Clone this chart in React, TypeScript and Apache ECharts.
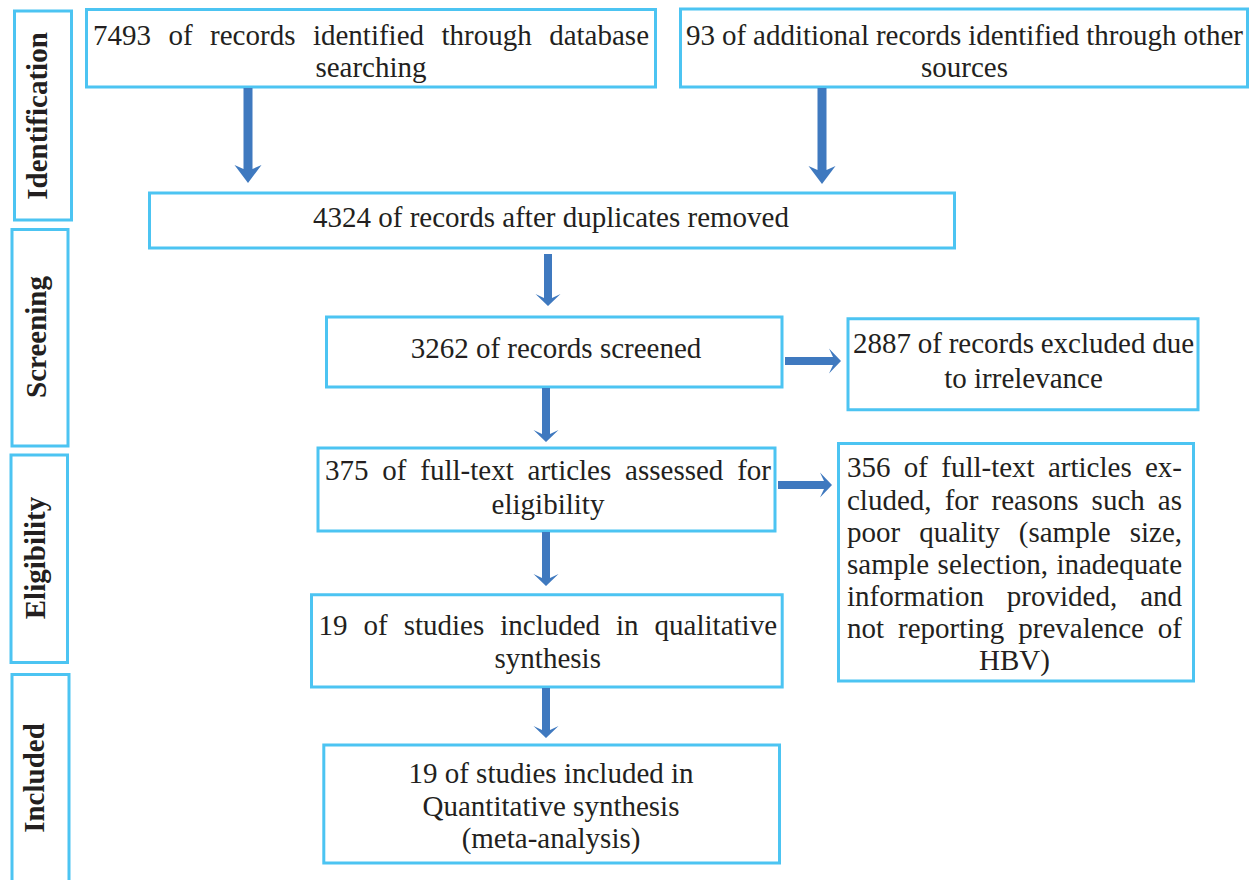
import React, { useEffect, useRef } from "react";
import * as echarts from "echarts";

// ---- Content ----
const stageLabels = ["Identification", "Screening", "Eligibility", "Included"];

const identDbLines = ["7493 of records identified through database", "searching"];
const identOtherLines = ["93 of additional records identified through other", "sources"];
const dedupLines = ["4324 of records after duplicates removed"];
const screenedLines = ["3262 of records screened"];
const excludedLines = ["2887 of records excluded due", "to irrelevance"];
const fullTextLines = ["375 of full-text articles assessed for", "eligibility"];
const fullTextExcludedLines = [
  "356 of full-text articles ex-",
  "cluded, for reasons such as",
  "poor quality (sample size,",
  "sample selection, inadequate",
  "information provided, and",
  "not reporting prevalence of",
  "HBV)",
];
const qualitativeLines = ["19 of studies included in qualitative", "synthesis"];
const quantitativeLines = ["19 of studies included in", "Quantitative synthesis", "(meta-analysis)"];

// ---- Layout / style ----
const FONT = '"Liberation Serif", "Times New Roman", serif';
const FS = 29;
const BORDER = "#4cc4f2";
const ARROW = "#3f79bf";
const TEXT = "#231f20";

const stageBoxes = [
  { x: 14.5, y: 11, w: 57, h: 209, cx: 37, cy: 116 },
  { x: 12, y: 229.5, w: 56, h: 216.5, cx: 36, cy: 337 },
  { x: 11, y: 455, w: 56.5, h: 207.5, cx: 35, cy: 558 },
  { x: 12, y: 674.5, w: 57, h: 240, cx: 34, cy: 778 },
];

const boxes = [
  { lines: identDbLines, x: 86.5, y: 9.5, w: 569, h: 77.5, tx0: 93, tx1: 649, base: [45, 77], justify: true },
  { lines: identOtherLines, x: 680.5, y: 9, w: 567, h: 78, tx0: 686, tx1: 1243, base: [45, 77], justify: true },
  { lines: dedupLines, x: 149.5, y: 193, w: 805, h: 55, tx0: 149, tx1: 953, base: [227], justify: false },
  { lines: screenedLines, x: 326.5, y: 317, w: 455.5, h: 70, tx0: 330, tx1: 782, base: [358], justify: false },
  { lines: excludedLines, x: 848, y: 318.8, w: 350, h: 91, tx0: 853, tx1: 1194, base: [353, 388], justify: true },
  { lines: fullTextLines, x: 318, y: 448, w: 457, h: 83, tx0: 325, tx1: 771, base: [480, 514], justify: true },
  { lines: fullTextExcludedLines, x: 838.5, y: 443.5, w: 355, h: 237.5, tx0: 847, tx1: 1182, base: [477, 510, 542, 574, 606, 638, 670], justify: true },
  { lines: qualitativeLines, x: 311.5, y: 594.7, w: 470.7, h: 92.3, tx0: 318.5, tx1: 777, base: [635, 668], justify: true },
  { lines: quantitativeLines, x: 323.8, y: 745, w: 455.7, h: 118, tx0: 323, tx1: 779, base: [783, 815.5, 848], justify: false },
];

// arrows: dir 'down' => (c = x center, s = start y, t = tip y) ; 'right' => (c = y center, s = start x, t = tip x)
const arrows = [
  { dir: "down", c: 248, s: 88, t: 183, head: 18, half: 13.5, shaft: 9 },
  { dir: "down", c: 822, s: 88, t: 184, head: 18, half: 13.5, shaft: 9 },
  { dir: "down", c: 548, s: 254, t: 306, head: 12, half: 12.5, shaft: 8 },
  { dir: "down", c: 546, s: 388, t: 442, head: 12, half: 12.5, shaft: 8 },
  { dir: "down", c: 546, s: 532, t: 586, head: 12, half: 12.5, shaft: 8 },
  { dir: "down", c: 546, s: 688, t: 738, head: 12, half: 12.5, shaft: 8 },
  { dir: "right", c: 361, s: 785, t: 841, head: 12, half: 12.5, shaft: 8 },
  { dir: "right", c: 485, s: 778, t: 832, head: 12, half: 12.5, shaft: 8 },
];

let measureCtx: CanvasRenderingContext2D | null = null;
function measure(text: string, font: string): number {
  if (!measureCtx) {
    const c = document.createElement("canvas");
    measureCtx = c.getContext("2d");
  }
  if (!measureCtx) return text.length * FS * 0.45;
  measureCtx.font = font;
  return measureCtx.measureText(text).width;
}

function textEl(text: string, x: number, y: number, align: string, extra: any = {}) {
  return {
    type: "text",
    x,
    y,
    silent: true,
    style: {
      text,
      fontSize: FS,
      fontFamily: FONT,
      fill: TEXT,
      align,
      verticalAlign: "middle",
      ...extra,
    },
  };
}

function buildBoxText(b: any): any[] {
  const out: any[] = [];
  const font = `${FS}px ${FONT}`;
  b.lines.forEach((line: string, i: number) => {
    const y = b.base[i] - 10;
    const isLast = i === b.lines.length - 1;
    if (b.justify && !isLast) {
      const words = line.split(" ");
      const widths = words.map((w) => measure(w, font));
      const total = widths.reduce((a, c) => a + c, 0);
      const gap = (b.tx1 - b.tx0 - total) / Math.max(1, words.length - 1);
      let cx = b.tx0;
      words.forEach((w, k) => {
        out.push(textEl(w, cx, y, "left"));
        cx += widths[k] + gap;
      });
    } else {
      out.push(textEl(line, (b.tx0 + b.tx1) / 2, y, "center"));
    }
  });
  return out;
}

function arrowPoints(a: any): number[][] {
  const n = 4; // barb sweep-back
  const hs = a.shaft / 2;
  if (a.dir === "down") {
    const c = a.c;
    const bj = a.t - a.head + n;
    return [
      [c - hs, a.s],
      [c + hs, a.s],
      [c + hs, bj],
      [c + a.half, a.t - a.head],
      [c, a.t],
      [c - a.half, a.t - a.head],
      [c - hs, bj],
    ];
  }
  const c = a.c;
  const bj = a.t - a.head + n;
  return [
    [a.s, c - hs],
    [bj, c - hs],
    [a.t - a.head, c - a.half],
    [a.t, c],
    [a.t - a.head, c + a.half],
    [bj, c + hs],
    [a.s, c + hs],
  ];
}

export default function App() {
  const ref = useRef<HTMLDivElement>(null);
  useEffect(() => {
    if (!ref.current) return;
    const chart = echarts.init(ref.current, null, { renderer: "svg" });
    const elements: any[] = [];

    stageBoxes.forEach((s, i) => {
      elements.push({
        type: "rect",
        shape: { x: s.x, y: s.y, width: s.w, height: s.h },
        style: { fill: "#ffffff", stroke: BORDER, lineWidth: 3 },
        silent: true,
      });
      elements.push({
        type: "text",
        x: s.cx,
        y: s.cy,
        rotation: Math.PI / 2,
        silent: true,
        style: {
          text: stageLabels[i],
          fontSize: FS,
          fontFamily: FONT,
          fontWeight: "bold",
          fill: TEXT,
          align: "center",
          verticalAlign: "middle",
        },
      });
    });

    boxes.forEach((b) => {
      elements.push({
        type: "rect",
        shape: { x: b.x, y: b.y, width: b.w, height: b.h },
        style: { fill: "#ffffff", stroke: BORDER, lineWidth: 3 },
        silent: true,
      });
      elements.push(...buildBoxText(b));
    });

    arrows.forEach((a) => {
      elements.push({
        type: "polygon",
        shape: { points: arrowPoints(a) },
        style: { fill: ARROW },
        silent: true,
      });
    });

    chart.setOption({
      animation: false,
      backgroundColor: "#ffffff",
      graphic: { elements },
    });
    return () => chart.dispose();
  }, []);

  return (
    <div
      ref={ref}
      style={{ position: "fixed", left: 0, top: 0, width: 1252, height: 880, background: "#fff" }}
    />
  );
}
